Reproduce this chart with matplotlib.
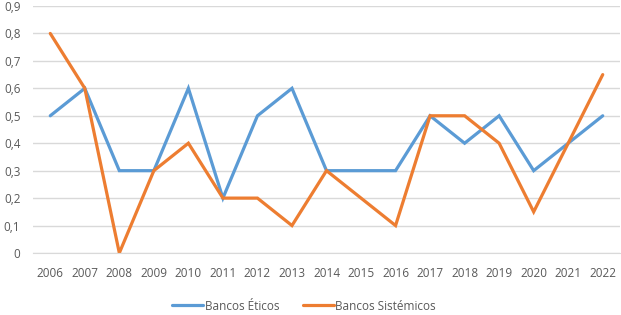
import matplotlib
matplotlib.use("Agg")
import matplotlib.pyplot as plt

years = [str(y) for y in range(2006, 2023)]
eticos = [0.5, 0.6, 0.3, 0.3, 0.6, 0.2, 0.5, 0.6, 0.3, 0.3, 0.3, 0.5, 0.4, 0.5, 0.3, 0.4, 0.5]
sistemicos = [0.8, 0.6, 0.0, 0.3, 0.4, 0.2, 0.2, 0.1, 0.3, 0.2, 0.1, 0.5, 0.5, 0.4, 0.15, 0.4, 0.65]
yticks = [0, 0.1, 0.2, 0.3, 0.4, 0.5, 0.6, 0.7, 0.8, 0.9]
ytick_labels = ["0", "0,1", "0,2", "0,3", "0,4", "0,5", "0,6", "0,7", "0,8", "0,9"]

plt.rcParams['font.family'] = ['Open Sans', 'DejaVu Sans']
txt = "#595959"

fig = plt.figure(figsize=(6.21, 3.15), dpi=100)
ax = fig.add_axes([33/621, 1 - 253/315, (620 - 33)/621, (253 - 6)/315])
x = list(range(len(years)))
ax.plot(x, eticos, color="#5B9BD5", lw=2.3, label="Bancos Éticos", solid_capstyle="round", solid_joinstyle="miter")
ax.plot(x, sistemicos, color="#ED7D31", lw=2.3, label="Bancos Sistémicos", solid_capstyle="round", solid_joinstyle="miter")

ax.set_xlim(-0.5, len(years) - 0.5)
ax.set_ylim(0, 0.9)
ax.set_yticks(yticks)
ax.set_yticklabels(ytick_labels)
ax.set_xticks(x)
ax.set_xticklabels(years)
ax.grid(axis="y", color="#D9D9D9", lw=1)
ax.set_axisbelow(True)
for s in ["top", "right", "left"]:
    ax.spines[s].set_visible(False)
ax.spines["bottom"].set_color("#D9D9D9")
ax.tick_params(axis="both", length=0, colors=txt, labelsize=8.5)
ax.tick_params(axis="x", pad=10)
ax.tick_params(axis="y", pad=9)

leg = fig.legend(loc="center", bbox_to_anchor=(0.49, 1 - 306/315), ncol=2, frameon=False,
                 fontsize=8.5, handlelength=2.6, columnspacing=2.0, handletextpad=0.15)
for t in leg.get_texts():
    t.set_color(txt)

fig.savefig("out.png", dpi=100)
